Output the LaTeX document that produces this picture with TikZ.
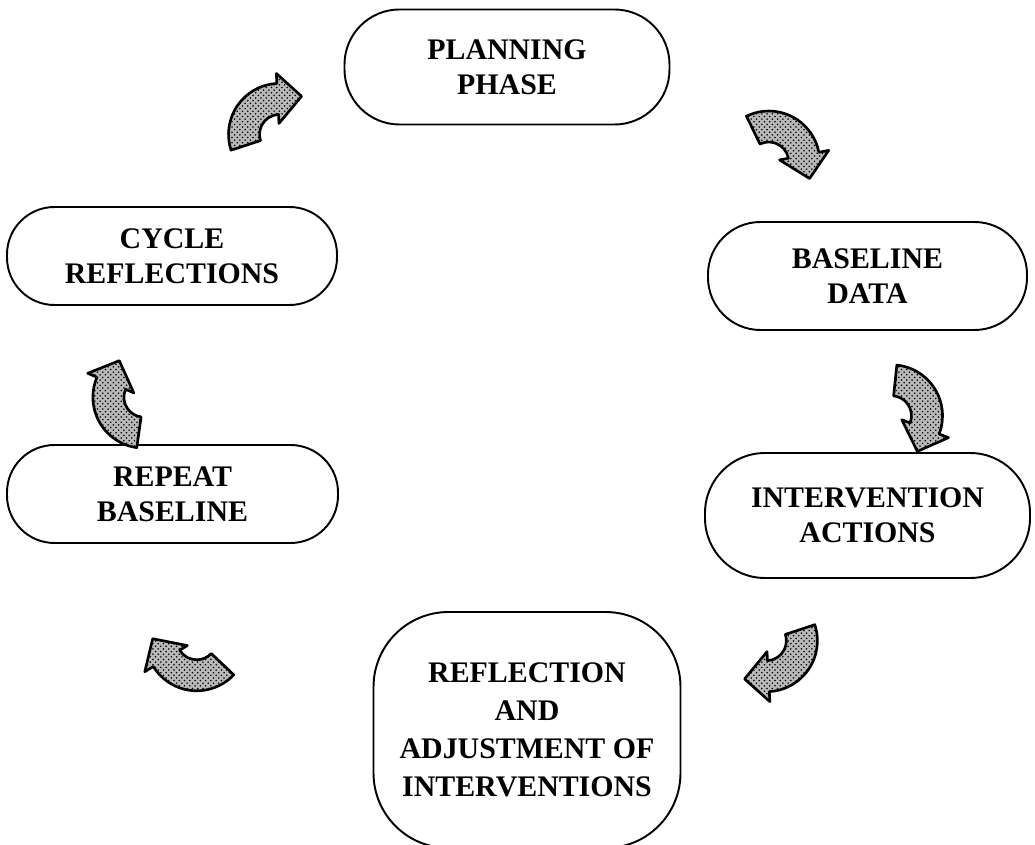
\documentclass[tikz,border=0pt]{standalone}
\usepackage{fontspec}
\setmainfont{Liberation Serif}
\usetikzlibrary{patterns}

\tikzset{
	phase/.style={draw, line width=1.1pt, align=center, inner sep=0pt,
		font=\fontsize{17}{20}\selectfont\bfseries},
	turnfill/.style={draw, line width=1.5pt, line join=round,
		preaction={fill=gray!55}, pattern=crosshatch dots},
	% curved block arrow, turning clockwise, centred on its origin
	turnarrow/.pic={
		\draw[turnfill, yshift=-0.58cm]
			(150:1.02) arc[start angle=150, end angle=45, radius=1.02]
			-- (45:1.22) -- (12:0.88) -- (45:0.22) -- (45:0.4)
			arc[start angle=45, end angle=150, radius=0.4] -- cycle;
	}
}

\begin{document}
\begin{tikzpicture}

	\useasboundingbox (0,0) rectangle (20.7,16.88);

	% phases of the cycle
	\node[phase, minimum width=6.5cm, minimum height=2.3cm, rounded corners=1.1cm]
		(plan) at (10.14,15.54) {PLANNING\\PHASE};
	\node[phase, minimum width=6.38cm, minimum height=2.16cm, rounded corners=1.05cm]
		(base) at (17.35,11.36) {BASELINE\\DATA};
	\node[phase, minimum width=6.5cm, minimum height=2.5cm, rounded corners=1.2cm]
		(interv) at (17.35,6.57) {INTERVENTION\\ACTIONS};
	\node[phase, minimum width=6.14cm, minimum height=4.72cm, rounded corners=1.5cm,
		font=\fontsize{17}{21.5}\selectfont\bfseries]
		(adjust) at (10.54,2.28) {REFLECTION\\AND\\ADJUSTMENT OF\\INTERVENTIONS};
	\node[phase, minimum width=6.62cm, minimum height=1.96cm, rounded corners=0.95cm]
		(repeat) at (3.45,7.0) {REPEAT\\BASELINE};
	\node[phase, minimum width=6.6cm, minimum height=1.96cm, rounded corners=0.95cm]
		(cycle) at (3.44,11.76) {CYCLE\\REFLECTIONS};

	% arrows going round
	\pic[rotate=48] at (5.16,14.58) {turnarrow};
	\pic[rotate=-34] at (15.7,14.12) {turnarrow};
	\pic[rotate=-66] at (18.36,8.8) {turnarrow};
	\pic[rotate=-131.7] at (15.76,3.68) {turnarrow};
	\pic[rotate=166.6] at (3.8,3.52) {turnarrow};
	\pic[rotate=112] at (2.34,8.72) {turnarrow};

\end{tikzpicture}
\end{document}
